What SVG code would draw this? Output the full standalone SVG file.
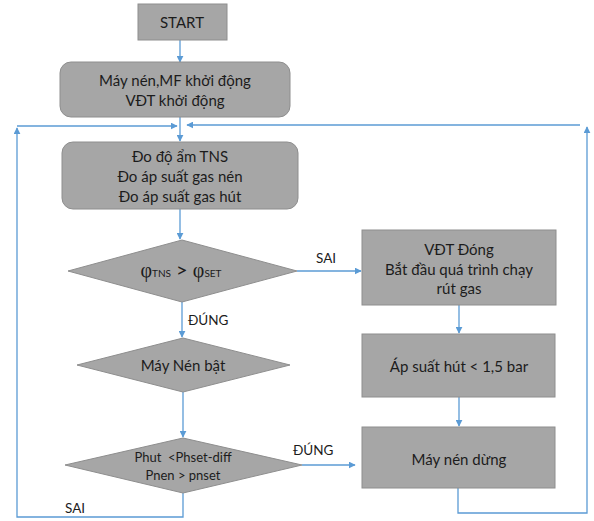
<svg xmlns="http://www.w3.org/2000/svg" width="594" height="521" viewBox="0 0 594 521">
<defs>
<marker id="ah" viewBox="0 0 10 10" refX="9" refY="5" markerWidth="7" markerHeight="7" markerUnits="userSpaceOnUse" orient="auto">
<path d="M0,0 L10,5 L0,10 z" fill="#5b9bd5"/>
</marker>
</defs>
<style>
.box{fill:#a6a6a6;stroke:#8e8e8e;stroke-width:1}
.t{font-family:Lato,"Liberation Sans",sans-serif;font-size:15px;fill:#1c1c1c;text-anchor:middle;dominant-baseline:central}
.s{font-size:13px}
.lbl{font-family:Lato,"Liberation Sans",sans-serif;font-size:13.5px;fill:#1c1c1c}
.c{fill:none;stroke:#5b9bd5;stroke-width:1.3}
.a{marker-end:url(#ah)}
</style>
<rect width="594" height="521" fill="#ffffff"/>
<g id="connectors">
<path class="c a" d="M180,40 V62"/>
<path class="c a" d="M180,117 V141"/>
<path class="c a" d="M180,209 V239"/>
<path class="c a" d="M297,271 H361"/>
<path class="c a" d="M182,301 V337"/>
<path class="c a" d="M183,392 V437"/>
<path class="c a" d="M459,305 V333"/>
<path class="c a" d="M459,397 V426"/>
<path class="c a" d="M302,465 H355"/>
<path class="c a" d="M183,493 V517 H17 V128"/>
<path class="c a" d="M17,126 H177"/>
<path class="c a" d="M458,488 V513 H587 V127"/>
<path class="c a" d="M580,125 H187"/>
</g>
<g id="start">
<rect class="box" x="138" y="4" width="89" height="36"/>
<text class="t" x="182" y="22">START</text>
</g>
<g id="khoidong">
<rect class="box" x="60" y="62" width="230" height="55" rx="11"/>
<text class="t" x="175" y="80">Máy nén,MF khởi động</text>
<text class="t" x="175" y="100">VĐT khởi động</text>
</g>
<g id="do">
<rect class="box" x="62" y="142" width="236" height="67" rx="11"/>
<text class="t" x="180" y="156">Đo độ ẩm TNS</text>
<text class="t" x="180" y="176">Đo áp suất gas nén</text>
<text class="t" x="180" y="196">Đo áp suất gas hút</text>
</g>
<g id="dk1">
<polygon class="box" points="182,240 297,271 182,302 68,271"/>
<text x="181" y="277" text-anchor="middle" font-family="Lato,'Liberation Sans',sans-serif" fill="#1c1c1c"><tspan font-family="'Liberation Serif',serif" font-size="20">φ</tspan><tspan font-size="10">TNS</tspan><tspan font-size="20"> &gt; </tspan><tspan font-family="'Liberation Serif',serif" font-size="20">φ</tspan><tspan font-size="10">SET</tspan></text>
</g>
<g id="maynenbat">
<polygon class="box" points="183,338 290,365 183,392 77,365"/>
<text class="t" x="183" y="365" font-size="14">Máy Nén bật</text>
</g>
<g id="dk2">
<polygon class="box" points="183,438 302,465 183,493 65,465"/>
<text class="t s" x="183" y="457">Phut&#160; &lt;Phset-diff</text>
<text class="t s" x="183" y="475">Pnen &gt; pnset</text>
</g>
<g id="vdtdong">
<rect class="box" x="362" y="230" width="194" height="75"/>
<text class="t" x="459" y="249">VĐT Đóng</text>
<text class="t" x="459" y="269">Bắt đầu quá trình chạy</text>
<text class="t" x="459" y="288">rút gas</text>
</g>
<g id="apsuat">
<rect class="box" x="362" y="334" width="193" height="63"/>
<text class="t" x="459" y="366">Áp suất hút &lt; 1,5 bar</text>
</g>
<g id="maynendung">
<rect class="box" x="362" y="427" width="193" height="61"/>
<text class="t" x="459" y="459">Máy nén dừng</text>
</g>
<g id="labels">
<text class="lbl" x="316" y="263">SAI</text>
<text class="lbl" x="188" y="325">ĐÚNG</text>
<text class="lbl" x="293" y="455">ĐÚNG</text>
<text class="lbl" x="65" y="513">SAI</text>
</g>
</svg>
